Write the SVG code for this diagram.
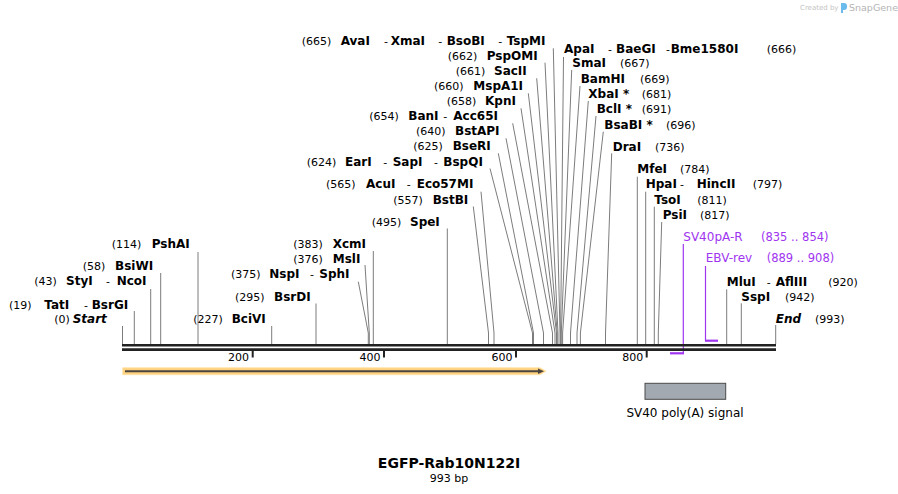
<svg xmlns="http://www.w3.org/2000/svg" width="898" height="494" viewBox="0 0 898 494">
<style>
text{font-family:"DejaVu Sans","Liberation Sans",sans-serif;fill:#000}
.n{font-size:11px}
.b{font-size:12px;font-weight:bold}
.i{font-size:12px;font-weight:bold;font-style:italic}
.s{font-size:11px}
.p{fill:#a035f0;font-size:12px}
.pr{fill:#a035f0;font-size:11.5px}
.cut{stroke:#7c7c7c;stroke-width:1;fill:none}
.pl{stroke:#a035f0;stroke-width:1.2;fill:none}
.pb{stroke:#a035f0;stroke-width:2.2;fill:none}
</style>
<rect width="898" height="494" fill="#fff"/>
<g id="logo">
<text x="800" y="10" style="font-size:7px;fill:#c4c4c4">Created by</text>
<path d="M841,3 h3 a3,3 0 0 1 3,3 v1 a3,3 0 0 1 -3,3 h-1 v3 h-2 z" fill="#6bbbec"/>
<text x="849" y="11" style="font-size:9.5px;fill:#b4b4b4">SnapGene</text>
</g>
<g id="connectors">
<path class="cut" d="M122.5,326V344M134.3,311V344M150.7,289V344M160.7,273V344M198,252V344M271.7,326V344M316,303.5V344"/>
<path class="cut" d="M358.3,281.7L368.3,333V344M365,265L369.3,333V344M373.3,251V344M447.3,228.5V344"/>
<path class="cut" d="M473.3,206.5L488.5,333V344M481,191.7L494,333V344M490,168.5L532.5,333V344M498.3,153.3L533.5,333V344M506,138.3L543.5,333V344M512.7,123.3L552.5,333V344M521,108.3L555,333V344M528.3,93.3L556.5,333V344M536.7,78.3L557.2,333V344M545,62.7L558,333V344M553.3,48.3L560,333V344"/>
<path class="cut" d="M563.5,57L560.6,333V344M571.7,70L561.3,333V344M580,86L562.6,333V344M588.3,101L570.5,333V344M596,116L577,333V344M603.3,131.7L580.4,333V344M611.7,153.3L605.5,333V344"/>
<path class="cut" d="M637.3,176.7V344M645.7,191.7V344M654.3,206.7V344M661.7,222L658.3,333V344M726.7,289.3V344M741.3,303.3V344M775.7,325V344"/>
<path class="pl" d="M683.3,244V354"/>
<path class="pb" d="M670,353.3H684"/>
<path class="pl" d="M705.5,266V341"/>
<path class="pb" d="M705,340.7H718"/>
</g>
<g id="backbone">
<path d="M122,345.3H776M122,349.6H776" stroke="#222" stroke-width="2.6"/>
<path d="M252.7,350.5V357.5M384,350.5V357.5M516,350.5V357.5M646.7,350.5V357.5" stroke="#222" stroke-width="2"/>
<text class="s" x="249" y="361" text-anchor="end">200</text>
<text class="s" x="380.5" y="361" text-anchor="end">400</text>
<text class="s" x="512.5" y="361" text-anchor="end">600</text>
<text class="s" x="643.3" y="361" text-anchor="end">800</text>
</g>
<g id="labels-left">
<text y="322.7"><tspan class="n" x="54.3">(0)</tspan><tspan class="i" x="72.7">Start</tspan></text>
<text y="308.7"><tspan class="n" x="9">(19)</tspan><tspan class="b" x="44.3">TatI</tspan><tspan class="n" x="84">-</tspan><tspan class="b" x="91.7">BsrGI</tspan></text>
<text y="285"><tspan class="n" x="34.3">(43)</tspan><tspan class="b" x="66">StyI</tspan><tspan class="n" x="106">-</tspan><tspan class="b" x="116.7">NcoI</tspan></text>
<text y="270"><tspan class="n" x="82.7">(58)</tspan><tspan class="b" x="115">BsiWI</tspan></text>
<text y="248.3"><tspan class="n" x="111.7">(114)</tspan><tspan class="b" x="151.7">PshAI</tspan></text>
<text y="323.3"><tspan class="n" x="193.3">(227)</tspan><tspan class="b" x="231.7">BciVI</tspan></text>
<text y="300.7"><tspan class="n" x="235">(295)</tspan><tspan class="b" x="274">BsrDI</tspan></text>
<text y="278.3"><tspan class="n" x="231">(375)</tspan><tspan class="b" x="269.3">NspI</tspan><tspan class="n" x="310">-</tspan><tspan class="b" x="319.3">SphI</tspan></text>
<text y="263.3"><tspan class="n" x="293.3">(376)</tspan><tspan class="b" x="332.7">MslI</tspan></text>
<text y="248.3"><tspan class="n" x="293.3">(383)</tspan><tspan class="b" x="332.7">XcmI</tspan></text>
<text y="226"><tspan class="n" x="371.7">(495)</tspan><tspan class="b" x="410">SpeI</tspan></text>
<text y="204"><tspan class="n" x="393.3">(557)</tspan><tspan class="b" x="432.7">BstBI</tspan></text>
<text y="188.3"><tspan class="n" x="326">(565)</tspan><tspan class="b" x="366">AcuI</tspan><tspan class="n" x="406.7">-</tspan><tspan class="b" x="416.7">Eco57MI</tspan></text>
<text y="166"><tspan class="n" x="306.7">(624)</tspan><tspan class="b" x="345">EarI</tspan><tspan class="n" x="383.3">-</tspan><tspan class="b" x="392.7">SapI</tspan><tspan class="n" x="434">-</tspan><tspan class="b" x="443.3">BspQI</tspan></text>
<text y="150"><tspan class="n" x="413.3">(625)</tspan><tspan class="b" x="452.7">BseRI</tspan></text>
<text y="135"><tspan class="n" x="416">(640)</tspan><tspan class="b" x="455">BstAPI</tspan></text>
<text y="120"><tspan class="n" x="369.3">(654)</tspan><tspan class="b" x="408.3">BanI</tspan><tspan class="n" x="443.3">-</tspan><tspan class="b" x="453.3">Acc65I</tspan></text>
<text y="105"><tspan class="n" x="446.7">(658)</tspan><tspan class="b" x="485">KpnI</tspan></text>
<text y="90"><tspan class="n" x="434">(660)</tspan><tspan class="b" x="473.3">MspA1I</tspan></text>
<text y="75"><tspan class="n" x="455.7">(661)</tspan><tspan class="b" x="494">SacII</tspan></text>
<text y="60"><tspan class="n" x="447.7">(662)</tspan><tspan class="b" x="486.7">PspOMI</tspan></text>
<text y="45"><tspan class="n" x="301.7">(665)</tspan><tspan class="b" x="340.7">AvaI</tspan><tspan class="n" x="384">-</tspan><tspan class="b" x="390.7">XmaI</tspan><tspan class="n" x="438.3">-</tspan><tspan class="b" x="446.7">BsoBI</tspan><tspan class="n" x="498.3">-</tspan><tspan class="b" x="506.7">TspMI</tspan></text>
</g>
<g id="labels-right">
<text y="53.3"><tspan class="b" x="564">ApaI</tspan><tspan class="n" x="608">-</tspan><tspan class="b" x="616">BaeGI</tspan><tspan class="n" x="666">-</tspan><tspan class="b" x="670.7">Bme1580I</tspan><tspan class="n" x="766.7">(666)</tspan></text>
<text y="67.3"><tspan class="b" x="572.3">SmaI</tspan><tspan class="n" x="620">(667)</tspan></text>
<text y="83.3"><tspan class="b" x="580.7">BamHI</tspan><tspan class="n" x="640">(669)</tspan></text>
<text y="98.3"><tspan class="b" x="588.3">XbaI *</tspan><tspan class="n" x="641.7">(681)</tspan></text>
<text y="113.3"><tspan class="b" x="596.7">BclI *</tspan><tspan class="n" x="641.7">(691)</tspan></text>
<text y="129"><tspan class="b" x="604.3">BsaBI *</tspan><tspan class="n" x="666">(696)</tspan></text>
<text y="150.7"><tspan class="b" x="612.7">DraI</tspan><tspan class="n" x="655">(736)</tspan></text>
<text y="173.3"><tspan class="b" x="637.3">MfeI</tspan><tspan class="n" x="680">(784)</tspan></text>
<text y="188.3"><tspan class="b" x="645.7">HpaI</tspan><tspan class="n" x="680">-</tspan><tspan class="b" x="696.7">HincII</tspan><tspan class="n" x="752.7">(797)</tspan></text>
<text y="204"><tspan class="b" x="654.3">TsoI</tspan><tspan class="n" x="697.3">(811)</tspan></text>
<text y="219"><tspan class="b" x="662.7">PsiI</tspan><tspan class="n" x="700">(817)</tspan></text>
<text y="286"><tspan class="b" x="726.7">MluI</tspan><tspan class="n" x="766.7">-</tspan><tspan class="b" x="775.7">AflIII</tspan><tspan class="n" x="828.3">(920)</tspan></text>
<text y="300.7"><tspan class="b" x="741.3">SspI</tspan><tspan class="n" x="785">(942)</tspan></text>
<text y="323.3"><tspan class="i" x="775.7">End</tspan><tspan class="n" x="815">(993)</tspan></text>
</g>
<g id="primer-SV40pA-R">
<text y="241"><tspan class="p" x="683.3">SV40pA-R</tspan><tspan class="pr" x="761">(835 .. 854)</tspan></text>
</g>
<g id="primer-EBV-rev">
<text y="262.3"><tspan class="p" x="705.7">EBV-rev</tspan><tspan class="pr" x="766.7">(889 .. 908)</tspan></text>
</g>
<g id="feature-orf">
<path d="M122.7,367.7H540L546,371.2L540,374.7H122.7Z" fill="#ffd27f" stroke="#ffe2a8" stroke-width="0.8"/>
<path d="M125,371.2H539" stroke="#4a4540" stroke-width="2"/>
<path d="M538,368.4L544,371.2L538,374Z" fill="#4a4540"/>
</g>
<g id="feature-polyA">
<rect x="645" y="383.3" width="80.7" height="16" fill="#a3a9b1" stroke="#4a4a4a" stroke-width="1"/>
<text x="685" y="416.7" text-anchor="middle" style="font-size:12px">SV40 poly(A) signal</text>
</g>
<g id="title">
<text x="449" y="468.3" text-anchor="middle" style="font-size:14px;font-weight:bold">EGFP-Rab10N122I</text>
<text x="449" y="482" text-anchor="middle" style="font-size:11px">993 bp</text>
</g>
</svg>
